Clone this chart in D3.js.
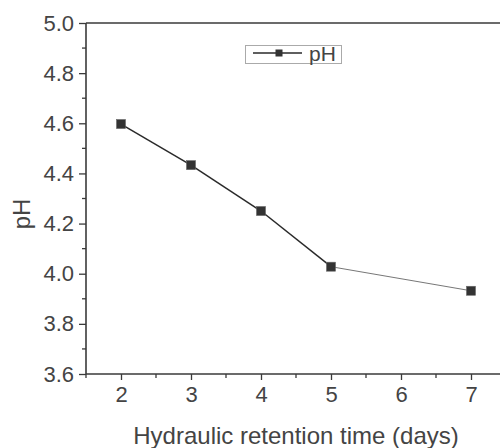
<!DOCTYPE html>
<html>
<head>
<meta charset="utf-8">
<script src="https://cdn.jsdelivr.net/npm/d3@7/dist/d3.min.js"></script>
<style>
  html, body { margin: 0; padding: 0; background: #fff; }
  svg { display: block; font-family: "Liberation Sans", Arial, sans-serif; }
</style>
</head>
<body>
<svg id="chart" width="500" height="448"></svg>
<script>
// Data
const hrtDays = [2, 3, 4, 5, 7];
const phValues = [4.597, 4.433, 4.25, 4.028, 3.932];
const xTicks = [2, 3, 4, 5, 6, 7];
const yTicks = [3.6, 3.8, 4.0, 4.2, 4.4, 4.6, 4.8, 5.0];
const seriesName = "pH";
const xTitle = "Hydraulic retention time (days)";
const yTitle = "pH";

const svg = d3.select("#chart");
const ink = "#3a3a3a";
const textCol = "#444";

const mLeft = 86, mRight = 506, mTop = 23, mBottom = 374;
const x = d3.scaleLinear().domain([1.5, 7.5]).range([mLeft, mRight]);
const y = d3.scaleLinear().domain([3.6, 5.0]).range([mBottom, mTop]);

// minor ticks
const yMinor = d3.range(3.7, 5.0, 0.2);
const xMinor = d3.range(1.5, 7.6, 1);

const gx = svg.append("g").attr("transform", `translate(0,${mBottom})`);
gx.call(d3.axisBottom(x).tickValues(xTicks).tickSize(6).tickPadding(6).tickFormat(d3.format("d")));
xMinor.forEach(v => {
  gx.append("line").attr("x1", x(v)).attr("x2", x(v)).attr("y1", 0).attr("y2", 4)
    .attr("stroke", ink).attr("stroke-width", 1.3);
});

const gy = svg.append("g").attr("transform", `translate(${mLeft},0)`);
gy.call(d3.axisLeft(y).tickValues(yTicks).tickSize(7).tickPadding(5).tickFormat(d3.format(".1f")));
yMinor.forEach(v => {
  gy.append("line").attr("x1", 0).attr("x2", -4).attr("y1", y(v)).attr("y2", y(v))
    .attr("stroke", ink).attr("stroke-width", 1.3);
});

[gx, gy].forEach(g => {
  g.select(".domain").attr("stroke", ink).attr("stroke-width", 1.6);
  g.selectAll(".tick line").attr("stroke", ink).attr("stroke-width", 1.3);
  g.selectAll(".tick text").attr("fill", textCol).attr("font-size", 22)
    .attr("font-family", "Liberation Sans, Arial, sans-serif");
});
gx.select(".domain").attr("d", `M${mLeft},0H${mRight}`);
gy.select(".domain").attr("d", `M0,${mBottom}V${mTop}`);

// top frame line
svg.append("line").attr("x1", mLeft).attr("x2", mRight).attr("y1", mTop).attr("y2", mTop)
  .attr("stroke", ink).attr("stroke-width", 1.6);

// line segments
const pts = hrtDays.map((d, i) => [x(d), y(phValues[i])]);
for (let i = 0; i < pts.length - 1; i++) {
  const last = i === pts.length - 2;
  svg.append("line")
    .attr("x1", pts[i][0]).attr("y1", pts[i][1])
    .attr("x2", pts[i+1][0]).attr("y2", pts[i+1][1])
    .attr("stroke", last ? "#777" : "#2a2a2a")
    .attr("stroke-width", last ? 1 : 1.5);
}
// markers
svg.selectAll("rect.pt").data(hrtDays).enter().append("rect")
  .attr("class", "pt")
  .attr("x", (d) => x(d) - 4.5)
  .attr("y", (d, i) => y(phValues[i]) - 4.5)
  .attr("width", 9).attr("height", 9)
  .attr("fill", "#333").attr("stroke", "#666").attr("stroke-width", 0.6);

// legend
const lg = svg.append("g");
lg.append("rect").attr("x", 245.5).attr("y", 45.5).attr("width", 96).attr("height", 18)
  .attr("fill", "#fff").attr("stroke", "#aaa").attr("stroke-width", 1);
lg.append("line").attr("x1", 253).attr("x2", 302).attr("y1", 53).attr("y2", 53)
  .attr("stroke", "#2a2a2a").attr("stroke-width", 1.5);
lg.append("rect").attr("x", 275.5).attr("y", 49.5).attr("width", 7).attr("height", 7)
  .attr("fill", "#333");
lg.append("text").attr("x", 309).attr("y", 61).attr("fill", textCol)
  .attr("font-size", 21).text(seriesName);

// axis titles
svg.append("text").attr("x", 296).attr("y", 444).attr("text-anchor", "middle")
  .attr("fill", textCol).attr("font-size", 24).text(xTitle);
svg.append("text").attr("transform", "translate(30,214) rotate(-90)")
  .attr("text-anchor", "middle").attr("fill", textCol).attr("font-size", 24).text(yTitle);
</script>
</body>
</html>
